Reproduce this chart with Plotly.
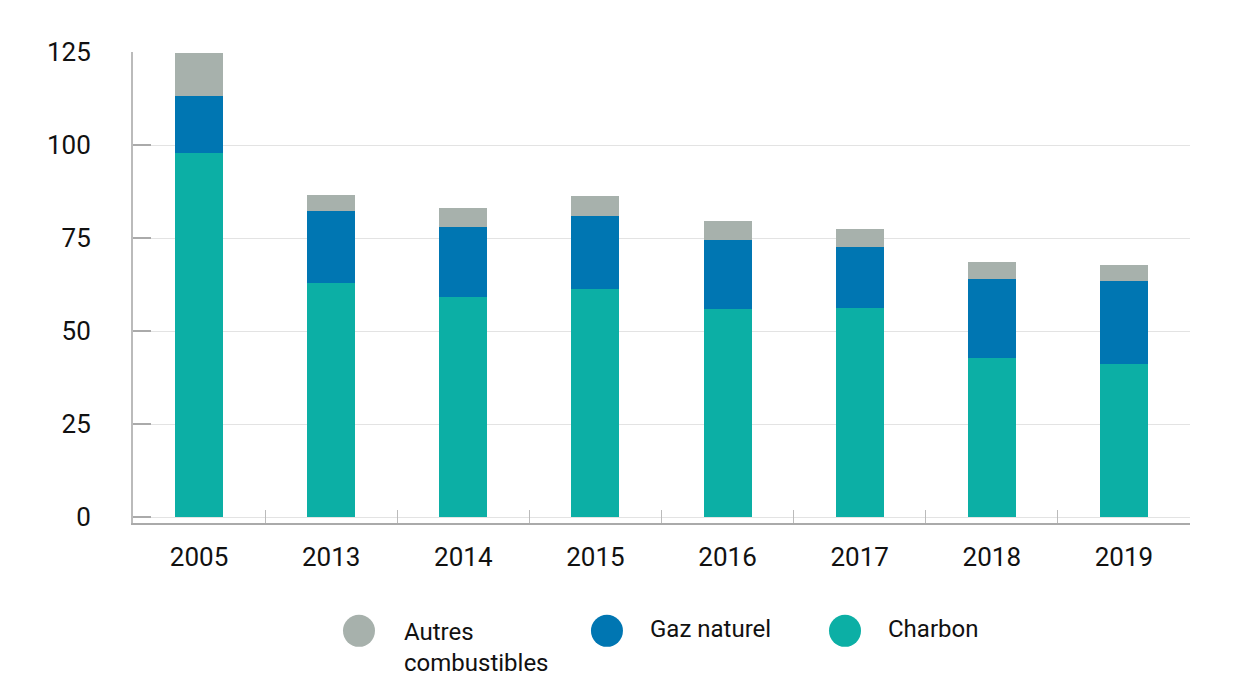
import plotly.graph_objects as go

years = ["2005", "2013", "2014", "2015", "2016", "2017", "2018", "2019"]
charbon = [97.8, 62.9, 59.1, 61.3, 55.9, 56.2, 42.7, 41.1]
gaz = [15.4, 19.4, 18.9, 19.6, 18.6, 16.4, 21.3, 22.3]
autres = [11.5, 4.3, 5.1, 5.4, 5.1, 4.8, 4.5, 4.3]

names = ["Autres<br>combustibles", "Gaz naturel", "Charbon"]
colors = {"Charbon": "#0CAFA5", "Gaz naturel": "#0076B2", "Autres": "#A7B1AC"}

FONT = "Roboto"

fig = go.Figure()
fig.add_bar(x=years, y=charbon, name="Charbon", marker_color=colors["Charbon"], marker_line_width=0)
fig.add_bar(x=years, y=gaz, name="Gaz naturel", marker_color=colors["Gaz naturel"], marker_line_width=0)
fig.add_bar(x=years, y=autres, name="Autres combustibles", marker_color=colors["Autres"], marker_line_width=0)

# page body has an 8px margin, so figure is sized to fit the window
fig.update_layout(
    barmode="stack",
    bargap=0.636,
    width=1229, height=689,
    margin=dict(l=125, r=47, t=44, b=174, autoexpand=False),
    paper_bgcolor="white", plot_bgcolor="white",
    showlegend=False,
    font=dict(family=FONT, color="#111111"),
)
fig.update_xaxes(
    type="category",
    showline=True, linecolor="#AAAAAA", linewidth=2,
    ticks="inside", tickson="boundaries", ticklen=13, tickcolor="#BBBBBB", tickwidth=1,
    tickfont=dict(size=26, family=FONT, color="#111111"),
    ticklabelstandoff=10,
    showgrid=False,
)
fig.update_yaxes(
    range=[-1.6, 125], tickvals=[0, 25, 50, 75, 100, 125],
    showline=True, linecolor="#BBBBBB", linewidth=2,
    ticks="inside", ticklen=18, tickcolor="#AAAAAA", tickwidth=2,
    showgrid=True, gridcolor="#E3E3E3", gridwidth=1,
    zeroline=False,
    tickfont=dict(size=26, family=FONT, color="#111111"),
    ticklabelstandoff=35,
)

# legend drawn manually with large circles
leg_x_circle = [0.2138, 0.4484, 0.6736]
leg_x_text = [0.2545, 0.4872, 0.7124]
leg_colors = [colors["Autres"], colors["Gaz naturel"], colors["Charbon"]]
leg_y = -0.229
for cx, tx, col, nm in zip(leg_x_circle, leg_x_text, leg_colors, names):
    fig.add_shape(type="circle", xref="paper", yref="paper",
                  xsizemode="pixel", ysizemode="pixel",
                  xanchor=cx, yanchor=leg_y, x0=-16, x1=16, y0=-16, y1=16,
                  fillcolor=col, line_width=0)
    if "<br>" in nm:
        fig.add_annotation(xref="paper", yref="paper", x=tx, y=leg_y + 0.032,
                           xanchor="left", yanchor="top", align="left",
                           text=nm, showarrow=False,
                           font=dict(size=24, family=FONT, color="#111111"))
    else:
        fig.add_annotation(xref="paper", yref="paper", x=tx, y=leg_y + 0.004,
                           xanchor="left", yanchor="middle", align="left",
                           text=nm, showarrow=False,
                           font=dict(size=24, family=FONT, color="#111111"))

fig.write_html("out.html")
